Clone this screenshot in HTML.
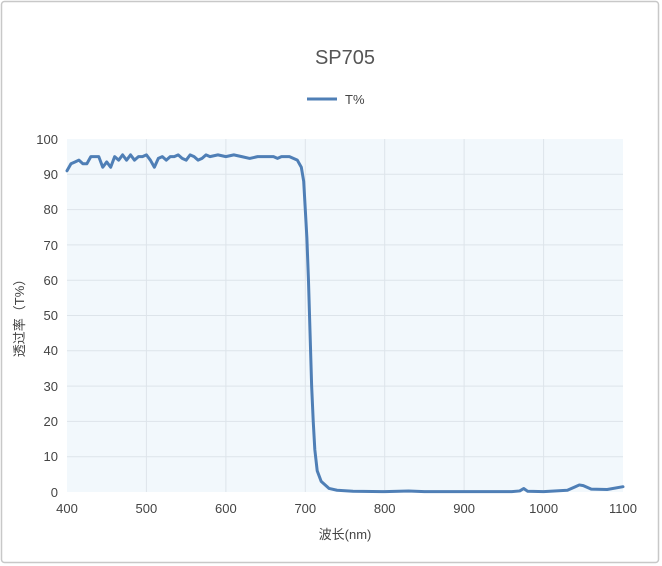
<!DOCTYPE html>
<html><head><meta charset="utf-8"><style>
html,body{margin:0;padding:0;background:#fff}
svg{display:block;font-family:"Liberation Sans","Noto Sans CJK SC",sans-serif}
</style></head><body>
<svg width="662" height="566" viewBox="0 0 662 566">
<rect x="1.5" y="1.5" width="657" height="561" rx="3" fill="#fff" stroke="#c8c8c8" stroke-width="1.5"/>
<text x="345" y="64" font-size="20" fill="#555" text-anchor="middle">SP705</text>
<line x1="307" y1="99" x2="337" y2="99" stroke="#4f7fb6" stroke-width="3"/>
<text x="345" y="104" font-size="13" fill="#444">T%</text>
<rect x="67" y="139" width="556" height="353" fill="#f2f8fc"/>
<g stroke="#dde4ea" stroke-width="1">
<line x1="146.4" y1="139" x2="146.4" y2="492"/><line x1="225.9" y1="139" x2="225.9" y2="492"/>
<line x1="305.3" y1="139" x2="305.3" y2="492"/><line x1="384.7" y1="139" x2="384.7" y2="492"/>
<line x1="464.1" y1="139" x2="464.1" y2="492"/><line x1="543.6" y1="139" x2="543.6" y2="492"/>
<line x1="67" y1="174.3" x2="623" y2="174.3"/><line x1="67" y1="209.6" x2="623" y2="209.6"/>
<line x1="67" y1="244.9" x2="623" y2="244.9"/><line x1="67" y1="280.2" x2="623" y2="280.2"/>
<line x1="67" y1="315.5" x2="623" y2="315.5"/><line x1="67" y1="350.8" x2="623" y2="350.8"/>
<line x1="67" y1="386.1" x2="623" y2="386.1"/><line x1="67" y1="421.4" x2="623" y2="421.4"/>
<line x1="67" y1="456.7" x2="623" y2="456.7"/>
</g>
<g font-size="13" fill="#444" text-anchor="end">
<text x="58" y="144">100</text><text x="58" y="179">90</text><text x="58" y="214">80</text>
<text x="58" y="250">70</text><text x="58" y="285">60</text><text x="58" y="320">50</text>
<text x="58" y="355">40</text><text x="58" y="391">30</text><text x="58" y="426">20</text>
<text x="58" y="461">10</text><text x="58" y="497">0</text>
</g>
<g font-size="13" fill="#444" text-anchor="middle">
<text x="67" y="513">400</text><text x="146.4" y="513">500</text><text x="225.9" y="513">600</text>
<text x="305.3" y="513">700</text><text x="384.7" y="513">800</text><text x="464.1" y="513">900</text>
<text x="543.6" y="513">1000</text><text x="623" y="513">1100</text>
</g>
<text x="345" y="539" font-size="13" fill="#444" text-anchor="middle">波长(nm)</text>
<text transform="translate(24,315) rotate(-90)" font-size="13" fill="#444" text-anchor="middle">透过率（T%）</text>
<g transform="translate(67,492) scale(0.7943,-3.53)">
<path fill="none" stroke="#4f7fb6" stroke-width="3" vector-effect="non-scaling-stroke" stroke-linejoin="round" stroke-linecap="round"
d="M0,91 L5,93 10,93.5 15,94 20,93 25,93 30,95 35,95 40,95 45,92 50,93.5 55,92 60,95 65,94 70,95.5 75,94 80,95.5 85,94 90,95 95,95 100,95.5 105,94 110,92 115,94.5 120,95 125,94 130,95 135,95 140,95.5 145,94.5 150,94 155,95.5 160,95 165,94 170,94.5 175,95.5 180,95 190,95.5 200,95 210,95.5 220,95 230,94.5 240,95 250,95 260,95 265,94.5 270,95 280,95 290,94 295,92 298,88 300,80 302,72 304,60 306,45 308,30 310,20 312,12 315,6 320,3 330,1 340,0.5 360,0.2 400,0.1 430,0.3 450,0.1 560,0.1 570,0.3 575,1 580,0.2 600,0.1 630,0.5 640,1.5 645,2 650,1.8 660,0.8 680,0.7 700,1.5"/>
</g>
</svg>
</body></html>
